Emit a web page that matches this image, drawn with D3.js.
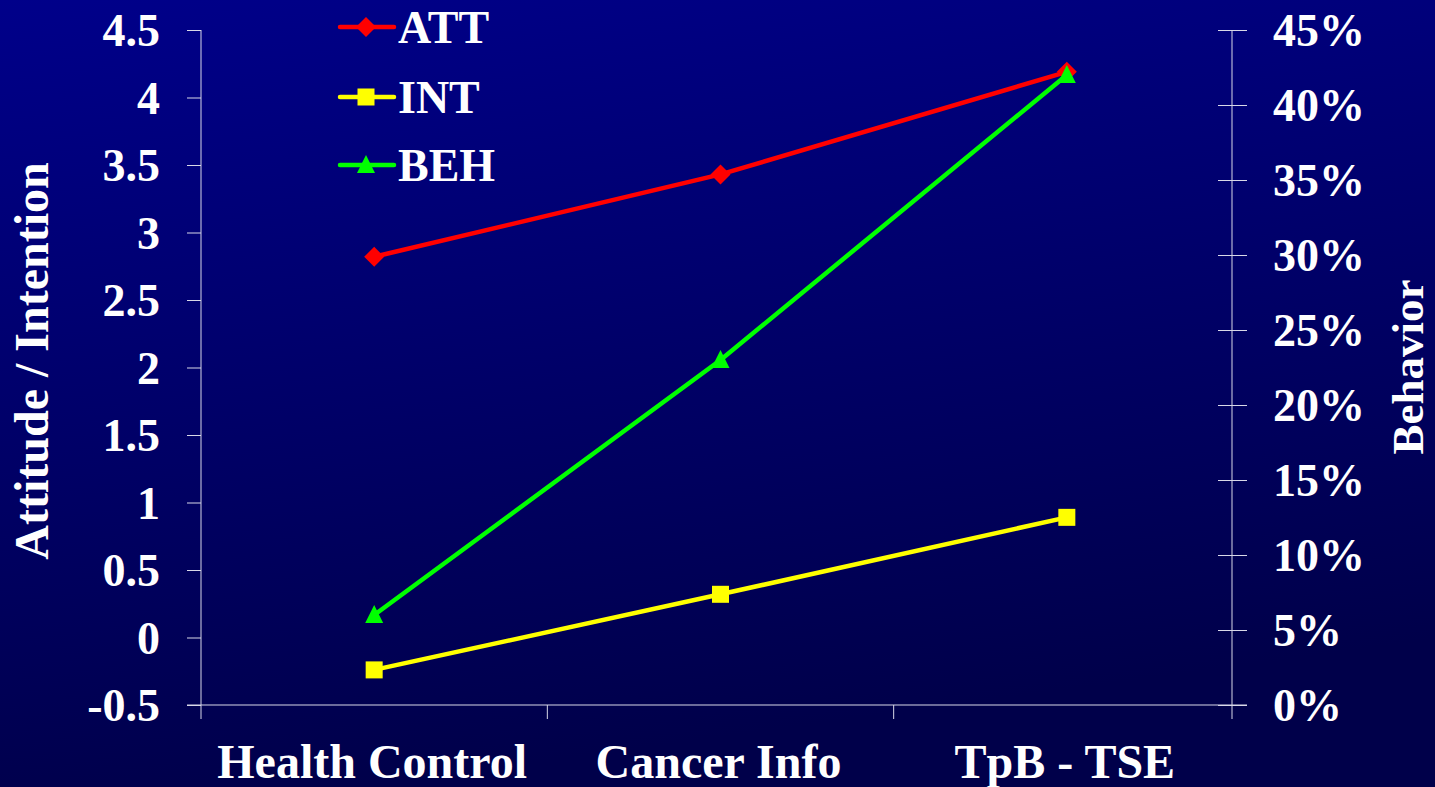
<!DOCTYPE html>
<html><head><meta charset="utf-8">
<script src="https://cdn.jsdelivr.net/npm/d3@7"></script>
<style>html,body{margin:0;padding:0;background:#000066;}svg{display:block;}</style>
</head><body>
<svg id="chart" width="1435" height="787"></svg>
<script>
const categories = ["Health Control", "Cancer Info", "TpB - TSE"];
const attValues = [2.82, 3.43, 4.19];
const intValues = [-0.24, 0.32, 0.89];
const behValues = [0.06, 0.23, 0.42];
const leftTicks = [-0.5, 0, 0.5, 1, 1.5, 2, 2.5, 3, 3.5, 4, 4.5];
const rightTicks = [0, 0.05, 0.10, 0.15, 0.20, 0.25, 0.30, 0.35, 0.40, 0.45];
const seriesNames = ["ATT", "INT", "BEH"];
const seriesColors = ["#ff0000", "#ffff00", "#00ff00"];

const svg = d3.select("#chart");
const W = 1435, H = 787;
const font = "'Liberation Serif', 'Times New Roman', serif";

const defs = svg.append("defs");
const g1 = defs.append("linearGradient").attr("id","bg").attr("x1","0").attr("y1","0").attr("x2","0.25").attr("y2","1");
g1.append("stop").attr("offset","0").attr("stop-color","#00008a");
g1.append("stop").attr("offset","1").attr("stop-color","#00004a");
svg.append("rect").attr("width",W).attr("height",H).attr("fill","url(#bg)");

const x = d3.scaleBand().domain(categories).range([201, 1240]);
const yL = d3.scaleLinear().domain([-0.5, 4.5]).range([705, 30]);
const yR = d3.scaleLinear().domain([0, 0.45]).range([705, 30]);
const xAxisRight = 1232;

const axisColor = "#d8d8e8";
// Left axis
const la = svg.append("g").attr("transform","translate(201,0)")
  .call(d3.axisLeft(yL).tickValues(leftTicks).tickSize(14).tickFormat(d => String(d)));
la.select(".domain").attr("stroke",axisColor).attr("d","M0,30V705");
la.selectAll(".tick line").attr("stroke",axisColor);
la.selectAll(".tick text").attr("x",-41).attr("fill","#fff").attr("font-family",font)
  .attr("font-weight","bold").attr("font-size",46).attr("dy","0.34em");

// Right axis
const ra = svg.append("g").attr("transform",`translate(${xAxisRight},0)`)
  .call(d3.axisRight(yR).tickValues(rightTicks).tickSize(15).tickFormat(d => Math.round(d*100) + "%"));
ra.select(".domain").attr("stroke",axisColor).attr("d","M0,30V719");
ra.selectAll(".tick line").attr("stroke",axisColor).attr("x1",-14).attr("x2",15);
ra.selectAll(".tick text").attr("x",41).attr("fill","#fff").attr("font-family",font)
  .attr("font-weight","bold").attr("font-size",46).attr("dy","0.34em");

// Bottom axis
const ba = svg.append("g").attr("transform","translate(0,705)");
ba.append("line").attr("x1",187).attr("x2",1247).attr("y1",0).attr("y2",0).attr("stroke",axisColor);
const bounds = categories.map(c => x(c));
ba.selectAll("line.tk").data(bounds).join("line").attr("class","tk")
  .attr("x1",d=>d).attr("x2",d=>d).attr("y1",0).attr("y2",14).attr("stroke",axisColor);
ba.selectAll("text.cat").data(categories).join("text").attr("class","cat")
  .attr("x",d=>x(d)+x.bandwidth()/2 - 2).attr("y",73)
  .attr("text-anchor","middle").attr("fill","#fff").attr("font-family",font)
  .attr("font-weight","bold").attr("font-size",48).text(d=>d);

// Axis titles
svg.append("text").attr("transform","translate(48,361) rotate(-90)").attr("text-anchor","middle")
  .attr("fill","#fff").attr("font-family",font).attr("font-weight","bold").attr("font-size",48)
  .text("Attitude / Intention");
svg.append("text").attr("transform","translate(1423,367) rotate(-90)").attr("text-anchor","middle")
  .attr("fill","#fff").attr("font-family",font).attr("font-weight","bold").attr("font-size",45)
  .text("Behavior");

// Lines
const cx = c => x(c) + x.bandwidth()/2;
const series = [
  {name: seriesNames[0], vals: attValues, y: yL, color: seriesColors[0], shape: "diamond"},
  {name: seriesNames[1], vals: intValues, y: yL, color: seriesColors[1], shape: "square"},
  {name: seriesNames[2], vals: behValues, y: yR, color: seriesColors[2], shape: "triangle"}
];
function marker(sel, shape, color) {
  if (shape === "diamond") sel.append("path").attr("d","M0,-10L10,0L0,10L-10,0Z").attr("fill",color);
  else if (shape === "square") sel.append("rect").attr("x",-8.5).attr("y",-8.5).attr("width",17).attr("height",17).attr("fill",color);
  else sel.append("path").attr("d","M0,-10L9,8L-9,8Z").attr("fill",color);
}
series.forEach(s => {
  const line = d3.line().x((d,i)=>cx(categories[i])).y(d=>s.y(d));
  svg.append("path").datum(s.vals).attr("d",line).attr("fill","none")
    .attr("stroke",s.color).attr("stroke-width",4.5);
  s.vals.forEach((v,i) => {
    const g = svg.append("g").attr("transform",`translate(${cx(categories[i])},${s.y(v)})`);
    marker(g, s.shape, s.color);
  });
});

// Legend
const legY = [27, 97, 165];
series.forEach((s,i) => {
  const g = svg.append("g").attr("transform",`translate(0,${legY[i]})`);
  g.append("line").attr("x1",340).attr("x2",394).attr("stroke",s.color).attr("stroke-width",4.5).attr("stroke-linecap","round");
  const m = g.append("g").attr("transform","translate(366,0)");
  marker(m, s.shape, s.color);
  g.append("text").attr("x",398).attr("y",0).attr("dy","0.35em").attr("fill","#fff")
    .attr("font-family",font).attr("font-weight","bold").attr("font-size",46).text(s.name);
});
</script>
</body></html>
